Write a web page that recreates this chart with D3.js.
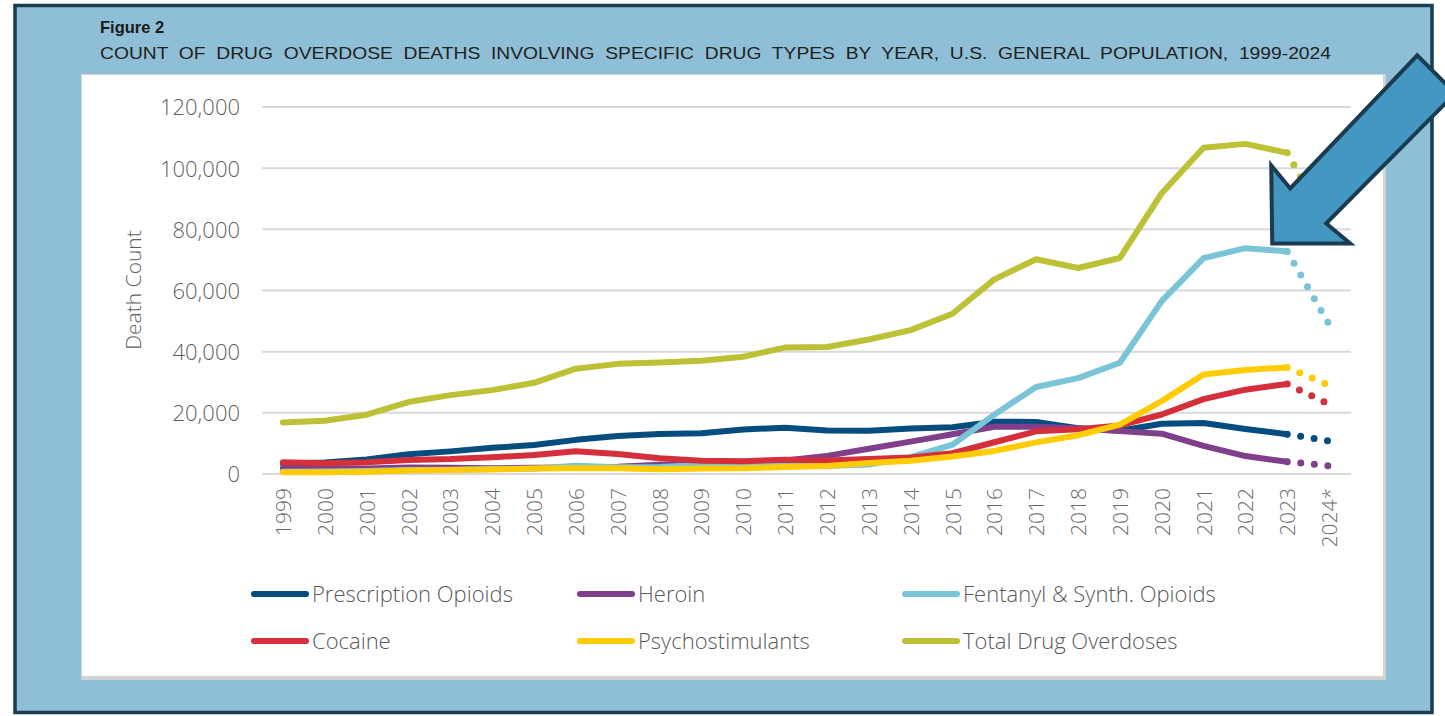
<!DOCTYPE html>
<html>
<head>
<meta charset="utf-8">
<script src="https://cdn.jsdelivr.net/npm/d3@7"></script>
<style>
  body { margin: 0; background: #ffffff; }
  svg { display: block; }
</style>
</head>
<body>
<div id="chart"></div>
<script>
const w = 1445;
const h = 716;

// data (2024* is provisional, drawn dotted)
const years = ["1999", "2000", "2001", "2002", "2003", "2004", "2005", "2006", "2007",
  "2008", "2009", "2010", "2011", "2012", "2013", "2014", "2015", "2016", "2017",
  "2018", "2019", "2020", "2021", "2022", "2023", "2024*"];

const rxOpioids = [3442, 3785, 4770, 6426, 7399, 8546, 9474, 11164, 12414, 13082, 13300,
  14583, 15140, 14240, 14145, 14838, 15281, 17087, 17029, 14975, 14139, 16416, 16706,
  14716, 13026, 10800];
const heroin = [1960, 1842, 1779, 2089, 2080, 1878, 2009, 2088, 2399, 3041, 3278, 3036,
  4397, 5925, 8257, 10574, 12989, 15469, 15482, 14996, 14019, 13165, 9173, 5871, 3984, 2700];
const fentanyl = [730, 782, 957, 1295, 1400, 1664, 1742, 2707, 2213, 2306, 2946, 3007,
  2666, 2628, 3105, 5544, 9580, 19413, 28466, 31335, 36359, 56516, 70601, 73838, 72776, 48900];
const cocaine = [3822, 3544, 3833, 4599, 4867, 5443, 6208, 7448, 6512, 5129, 4350, 4183,
  4681, 4404, 4944, 5415, 6784, 10375, 13942, 14666, 15883, 19447, 24486, 27569, 29449, 22800];
const psychostim = [547, 578, 705, 1108, 1303, 1477, 1767, 1898, 1887, 1554, 1802, 1854,
  2266, 2635, 3627, 4298, 5716, 7542, 10333, 12676, 16167, 23837, 32537, 34022, 34855, 29000];
const totalOd = [16849, 17415, 19394, 23518, 25785, 27424, 29813, 34425, 36010, 36450,
  37004, 38329, 41340, 41502, 43982, 47055, 52404, 63632, 70237, 67367, 70630, 91799,
  106699, 107941, 105007, 80400];

const yTicks = [0, 20000, 40000, 60000, 80000, 100000, 120000];

const seriesNames = ["Prescription Opioids", "Heroin", "Fentanyl & Synth. Opioids",
  "Cocaine", "Psychostimulants", "Total Drug Overdoses"];
const seriesColors = ["#044d7e", "#7f3f8b", "#79c4d6", "#d52f3b", "#ffcb05", "#bcc135"];
const seriesValues = [rxOpioids, heroin, fentanyl, cocaine, psychostim, totalOd];

const titleText = "Figure 2";
const subtitleText = "COUNT  OF  DRUG  OVERDOSE  DEATHS  INVOLVING  SPECIFIC  DRUG  TYPES  BY  YEAR,  U.S.  GENERAL  POPULATION,  1999-2024";

const series = seriesNames.map(function(n, i) {
  return { name: n, color: seriesColors[i], values: seriesValues[i] };
});

const svg = d3.select('#chart')
  .append('svg')
  .attr('width', w)
  .attr('height', h);

// outer frame
svg.append('rect')
  .attr('x', 15).attr('y', 5.5)
  .attr('width', 1417).attr('height', 707)
  .attr('fill', '#8fbfd6')
  .attr('stroke', '#1b3d52')
  .attr('stroke-width', 3.5);

// white panel with a light shadow
svg.append('rect')
  .attr('x', 81).attr('y', 74)
  .attr('width', 1305).attr('height', 606)
  .attr('fill', '#d3d3d3');
svg.append('rect')
  .attr('x', 82).attr('y', 75)
  .attr('width', 1301).attr('height', 601)
  .attr('fill', '#ffffff');

svg.append('text')
  .attr('x', 100).attr('y', 33)
  .attr('font-family', 'Liberation Sans, Arial, sans-serif')
  .attr('font-weight', 'bold')
  .attr('font-size', '16.5px')
  .attr('fill', '#1c1c1c')
  .text(titleText);

svg.append('text')
  .attr('x', 100).attr('y', 59)
  .attr('font-family', 'Liberation Sans, Arial, sans-serif')
  .attr('font-size', '17px')
  .attr('fill', '#222222')
  .attr('textLength', 1231)
  .attr('lengthAdjust', 'spacingAndGlyphs')
  .style('white-space', 'pre')
  .text(subtitleText);

let xScale = d3.scalePoint()
  .domain(years)
  .range([262, 1350])
  .padding(0.5);

let yScale = d3.scaleLinear()
  .domain([0, 120000])
  .range([474, 107]);

const labelFont = 'Open Sans, Noto Sans, sans-serif';

// gridlines
svg.append('g')
  .selectAll('line')
  .data(yTicks)
  .enter()
  .append('line')
  .attr('x1', 262)
  .attr('x2', 1351)
  .attr('y1', function(d) { return yScale(d); })
  .attr('y2', function(d) { return yScale(d); })
  .attr('stroke', '#d9d9d9')
  .attr('stroke-width', 2);

let yAxis = d3.axisLeft()
  .scale(yScale)
  .tickValues(yTicks)
  .tickFormat(d3.format(','))
  .tickSize(0)
  .tickPadding(0);

svg.append('g')
  .attr('id', 'axisY')
  .attr('transform', 'translate(240,0)')
  .call(yAxis)
  .call(function(g) { g.select('.domain').remove(); })
  .selectAll('text')
  .attr('font-family', labelFont)
  .attr('font-weight', 300)
  .attr('font-size', '22px')
  .attr('fill', '#5f5f5f')
  .attr('dy', '0.36em');

let xAxis = d3.axisBottom()
  .scale(xScale)
  .tickSize(0)
  .tickPadding(0);

svg.append('g')
  .attr('id', 'axisX')
  .attr('transform', 'translate(0,488)')
  .call(xAxis)
  .call(function(g) { g.select('.domain').remove(); })
  .selectAll('text')
  .attr('font-family', labelFont)
  .attr('font-weight', 300)
  .attr('font-size', '21px')
  .attr('fill', '#6a6a6a')
  .attr('text-anchor', 'end')
  .attr('transform', 'rotate(-90)')
  .attr('x', 0)
  .attr('y', 0)
  .attr('dy', '0.36em');

svg.append('text')
  .attr('transform', 'translate(141,290) rotate(-90)')
  .attr('text-anchor', 'middle')
  .attr('font-family', labelFont)
  .attr('font-weight', 300)
  .attr('font-size', '21px')
  .attr('fill', '#5f5f5f')
  .text('Death Count');

let line = d3.line()
  .x(function(d) { return xScale(d[0]); })
  .y(function(d) { return yScale(d[1]); });

const nSolid = years.length - 1;

const lines = svg.append('g');
series.forEach(function(s) {
  const pts = s.values.map(function(v, i) { return [years[i], v]; });
  lines.append('path')
    .attr('d', line(pts.slice(nSolid - 1)))
    .attr('fill', 'none')
    .attr('stroke', s.color)
    .attr('stroke-width', 7)
    .attr('stroke-linecap', 'round')
    .attr('stroke-dasharray', '0 13.6');
  lines.append('path')
    .attr('d', line(pts.slice(0, nSolid)))
    .attr('fill', 'none')
    .attr('stroke', s.color)
    .attr('stroke-width', 6)
    .attr('stroke-linejoin', 'round')
    .attr('stroke-linecap', 'round');
});

// legend, 3 columns x 2 rows
const legendCols = [251, 577, 902];
const legendRows = [594, 641];
const legend = svg.append('g')
  .selectAll('g')
  .data(series)
  .enter()
  .append('g')
  .attr('transform', function(d, i) {
    return 'translate(' + legendCols[i % 3] + ',' + legendRows[Math.floor(i / 3)] + ')';
  });

legend.append('line')
  .attr('x1', 3).attr('x2', 55)
  .attr('y1', 0).attr('y2', 0)
  .attr('stroke', function(d) { return d.color; })
  .attr('stroke-width', 6)
  .attr('stroke-linecap', 'round');

legend.append('text')
  .attr('x', 61)
  .attr('y', 0)
  .attr('dy', '0.35em')
  .attr('font-family', labelFont)
  .attr('font-weight', 300)
  .attr('font-size', '22px')
  .attr('fill', '#595959')
  .text(function(d) { return d.name; });

// callout arrow pointing at the 2023 fentanyl value
const tipX = xScale('2023') - 15;
const tipY = yScale(fentanyl[24]) - 8;
const arrowPts = [[0, 0], [-1, -78], [18, -55], [145, -188], [183, -150], [54, -20], [78, 0]];
svg.append('polygon')
  .attr('points', arrowPts.map(function(p) { return (tipX + p[0]) + ',' + (tipY + p[1]); }).join(' '))
  .attr('fill', '#4397c1')
  .attr('stroke', '#1a3b50')
  .attr('stroke-width', 4)
  .attr('stroke-linejoin', 'miter');
</script>
</body>
</html>
